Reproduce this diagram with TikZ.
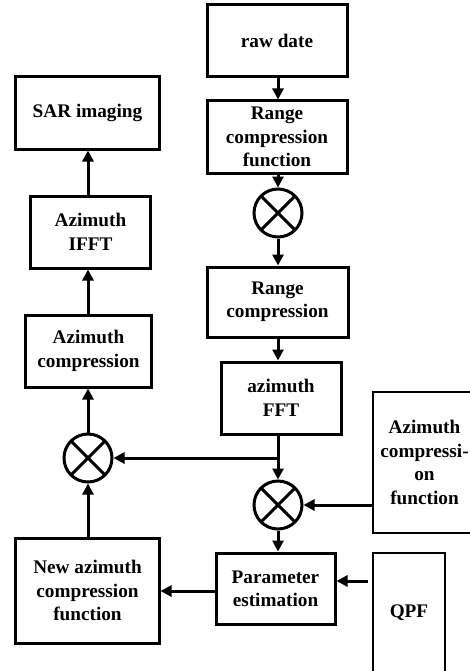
\documentclass[tikz,border=0pt]{standalone}
\usepackage{fontspec}
\setmainfont{Liberation Serif}
\usetikzlibrary{arrows.meta}

\tikzset{
  blk/.style={draw=black, line width=3bp, align=center, inner sep=2bp,
    font=\fontsize{19.3}{23.5}\selectfont\bfseries},
  blkthin/.style={blk, line width=2.2bp},
  mult/.style={circle, draw=black, line width=3bp, minimum size=48bp, inner sep=0pt,
    path picture={\draw[line width=3bp] (path picture bounding box.north west) -- (path picture bounding box.south east)
      (path picture bounding box.north east) -- (path picture bounding box.south west);}},
  arr/.style={line width=3bp, -{Triangle[length=11bp,width=11bp]}}
}

\begin{document}
\begin{tikzpicture}[x=1bp, y=-1bp]
    \useasboundingbox (0,0) rectangle (470,671);
    % right column
    \node[blk, minimum width=140bp, minimum height=72bp] (raw) at (277,41) {raw date};
    \node[blk, minimum width=140bp, minimum height=72bp] (rcf) at (277,137) {Range\\compression\\function};
    \node[mult] (mul1) at (278,213) {};
    \node[blk, minimum width=141bp, minimum height=70bp] (rc) at (277.5,302) {Range\\compression};
    \node[blk, minimum width=120bp, minimum height=72bp] (fft) at (281,398) {azimuth\\FFT};
    \node[mult] (mul2) at (278,505) {};
    \node[blk, minimum width=119bp, minimum height=71bp] (par) at (275.5,588.5) {Parameter\\estimation};
    \node[blkthin, minimum width=103bp, minimum height=141bp] (acf) at (424.5,462.5) {Azimuth\\compressi-\\on\\function};
    \node[blkthin, minimum width=72bp, minimum height=120bp] (qpf) at (409,613) {QPF};
    % left column
    \node[blk, minimum width=143bp, minimum height=105bp] (nacf) at (87.5,590.5) {New azimuth\\compression\\function};
    \node[mult] (mul3) at (88,458) {};
    \node[blk, minimum width=125bp, minimum height=72bp] (ac) at (88.5,351) {Azimuth\\compression};
    \node[blk, minimum width=119bp, minimum height=72bp] (ifft) at (90.5,232) {Azimuth\\IFFT};
    \node[blk, minimum width=143bp, minimum height=72bp] (sar) at (87.5,113) {SAR imaging};
    \coordinate (split) at (278,458);

    \draw[arr] (raw.south -| mul1) -- (rcf.north -| mul1);
    \draw[arr] (rcf.south -| mul1) -- (mul1);
    \draw[arr] (mul1) -- (rc.north -| mul1);
    \draw[arr] (rc.south -| mul1) -- (fft.north -| mul1);
    \draw[arr] (fft.south -| mul2) -- (mul2);
    \draw[arr] (split) -- (mul3);
    \draw[arr] (acf.west |- mul2) -- (mul2);
    \draw[arr] (mul2) -- (par.north -| mul2);
    \draw[arr, shorten <=4bp] (qpf.west |- 0,581) -- (par.east |- 0,581);
    \draw[arr] (par.west |- 0,591) -- (nacf.east |- 0,591);
    \draw[arr] (nacf.north -| mul3) -- (mul3);
    \draw[arr] (mul3) -- (ac.south -| mul3);
    \draw[arr] (ac.north -| mul3) -- (ifft.south -| mul3);
    \draw[arr] (ifft.north -| mul3) -- (sar.south -| mul3);
\end{tikzpicture}
\end{document}
